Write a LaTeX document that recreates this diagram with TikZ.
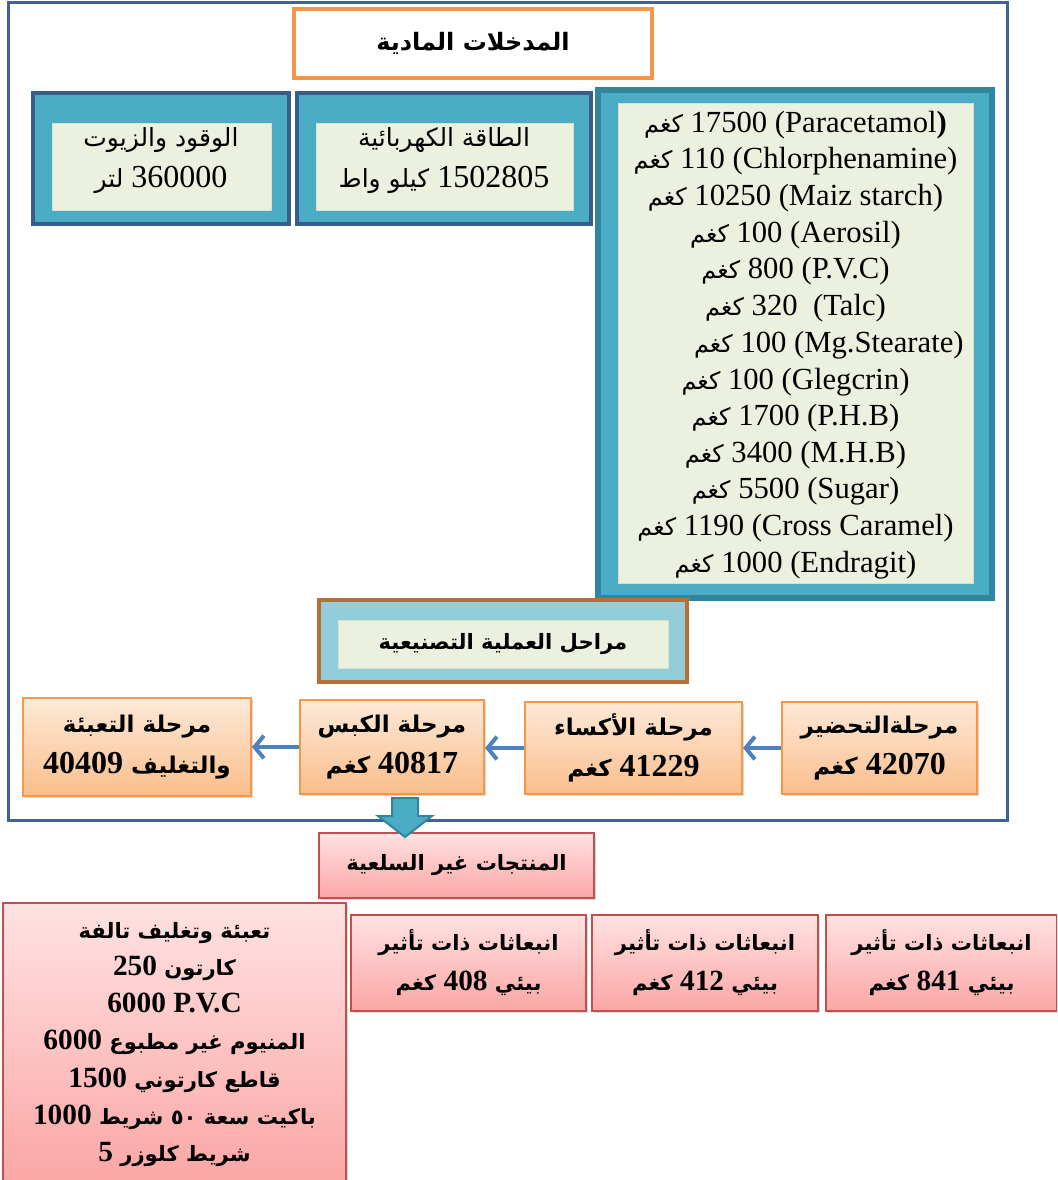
\documentclass[tikz,border=0pt]{standalone}
\usepackage{fontspec}
\setmainfont{Liberation Serif}
\newfontfamily\arabicfont[Script=Arabic,Scale=0.78]{DejaVu Sans}
\newfontfamily\arabicbold[Script=Arabic,Scale=0.72]{DejaVu Sans}
\TeXXeTstate=1
\newcommand{\artxt}[1]{{\arabicfont\beginR #1\endR}}
\newcommand{\arbtxt}[1]{{\arabicbold\bfseries\beginR #1\endR}}
\usepackage{tikz}
\usetikzlibrary{arrows.meta,positioning,calc,shadows}
\definecolor{framecol}{RGB}{64,98,148}
\definecolor{titleorange}{RGB}{247,150,70}
\definecolor{tealfill}{RGB}{75,172,198}
\definecolor{tealedge}{RGB}{49,133,156}
\definecolor{navyedge}{RGB}{56,93,138}
\definecolor{paleinner}{RGB}{235,241,222}
\definecolor{paleedge}{RGB}{214,227,200}
\definecolor{procfill}{RGB}{146,205,220}
\definecolor{procedge}{RGB}{183,110,55}
\definecolor{peachtop}{RGB}{253,233,216}
\definecolor{peachbot}{RGB}{250,190,140}
\definecolor{pinktop}{RGB}{255,226,226}
\definecolor{pinkbot}{RGB}{250,166,164}
\definecolor{pinkedge}{RGB}{192,80,77}
\definecolor{arrowblue}{RGB}{79,129,189}
\tikzset{
  framebox/.style={draw=framecol,line width=2.25pt},
  titlebox/.style={draw=titleorange,line width=3pt,fill=white,inner sep=0pt,
    font=\bfseries\fontsize{25}{28}\selectfont},
  tealbox/.style={draw=navyedge,line width=3pt,fill=tealfill,inner sep=0pt},
  innerbox/.style={draw=paleedge,line width=0.75pt,fill=paleinner,inner sep=0pt},
  plaintxt/.style={inner sep=0pt,align=center,font=\fontsize{24}{30.75}\selectfont},
  stagebox/.style={draw=titleorange,line width=1.5pt,top color=peachtop,bottom color=peachbot,
    inner sep=0pt,align=center,minimum height=69pt,
    drop shadow={shadow xshift=1.5pt,shadow yshift=-1.5pt,opacity=0.3},
    execute at begin node=\rule{0pt}{20pt},
    font=\bfseries\fontsize{24}{30.5}\selectfont},
  pinkbox/.style={draw=pinkedge,line width=1.5pt,top color=pinktop,bottom color=pinkbot,
    inner sep=0pt,align=center,
    drop shadow={shadow xshift=1.5pt,shadow yshift=-1.5pt,opacity=0.3},
    font=\bfseries\fontsize{22}{30}\selectfont},
  flowarrow/.style={draw=arrowblue,line width=3pt,-{Straight Barb[length=7pt,width=17pt]}},
  blockarrow/.style={draw=tealedge,line width=1.5pt,fill=tealfill}
}
\begin{document}
\begin{tikzpicture}[x=0.75pt,y=-0.75pt]
  \useasboundingbox (0,0) rectangle (1057,1180);
  \clip (0,0) rectangle (1057,1180);
  % outer frame
  \draw[framebox] (8,3) rectangle (1007,820);
  \node[titlebox,minimum width=268.5pt,minimum height=51.75pt] (inputs) at (473,43.5)
    {\arbtxt{المدخلات المادية}};
  % fuel and power
  \node[tealbox,minimum width=192pt,minimum height=98.25pt] (fuel) at (161,158.5) {};
  \node[innerbox,minimum width=164.25pt,minimum height=65.25pt] (fuelin) at (161.5,167.5) {};
  \node[plaintxt] (fueltxt) at (161,160.5) {\artxt{الوقود والزيوت}\\\artxt{لتر} 360000};
  \node[tealbox,minimum width=220.5pt,minimum height=98.25pt] (power) at (444,158.5) {};
  \node[innerbox,minimum width=192.75pt,minimum height=65.25pt] (powerin) at (444.5,167.5) {};
  \node[plaintxt] (powertxt) at (444,160.5) {\artxt{الطاقة الكهربائية}\\\artxt{كيلو واط} 1502805};
  % raw materials
  \node[tealbox,draw=tealedge,line width=4.5pt,minimum width=295.5pt,minimum height=381pt] (mats) at (795,344) {};
  \node[innerbox,minimum width=266.25pt,minimum height=359.25pt] (matsin) at (795.5,343.5) {};
  \node[plaintxt,font=\fontsize{23}{27.5}\selectfont] (matstxt) at (795.5,345) {%
    \artxt{كغم} 17500 (Paracetamol\textbf{)}\\
    \artxt{كغم} 110 (Chlorphenamine)\\
    \artxt{كغم} 10250 (Maiz starch)\\
    \artxt{كغم} 100 (Aerosil)\\
    \artxt{كغم} 800 (P.V.C)\\
    \artxt{كغم} 320 \ (Talc)\\
    \hspace*{50pt}\artxt{كغم} 100 (Mg.Stearate)\\
    \artxt{كغم} 100 (Glegcrin)\\
    \artxt{كغم} 1700 (P.H.B)\\
    \artxt{كغم} 3400 (M.H.B)\\
    \artxt{كغم} 5500 (Sugar)\\
    \artxt{كغم} 1190 (Cross Caramel)\\
    \artxt{كغم} 1000 (Endragit)};
  % process stages
  \node[tealbox,draw=procedge,fill=procfill,minimum width=276pt,minimum height=61.5pt] (proc) at (503,641) {};
  \node[innerbox,minimum width=247.5pt,minimum height=36pt,font=\bfseries\fontsize{22}{25}\selectfont] (procin) at (503,644)
    {\arbtxt{مراحل العملية التصنيعية}};
  \node[stagebox,minimum width=146.25pt] (prep) at (879.5,748) {\arbtxt{مرحلةالتحضير}\\\arbtxt{كغم} 42070};
  \node[stagebox,minimum width=162.75pt] (coat) at (633.5,748) {\arbtxt{مرحلة الأكساء}\\\arbtxt{كغم} 41229};
  \node[stagebox,minimum width=138pt,minimum height=70.5pt] (press) at (392,747) {\arbtxt{مرحلة الكبس}\\\arbtxt{كغم} 40817};
  \node[stagebox,minimum width=171pt,minimum height=73.5pt] (pack) at (137,747) {\arbtxt{مرحلة التعبئة}\\40409 \arbtxt{والتغليف}};
  \draw[flowarrow] (prep.west) -- (prep.west -| coat.east);
  \draw[flowarrow] (coat.west) -- (coat.west -| press.east);
  \draw[flowarrow] (press.west) -- (press.west -| pack.east);
  % non-commodity outputs
  \node[pinkbox,minimum width=206.25pt,minimum height=48.75pt,font=\bfseries\fontsize{22}{25}\selectfont] (waste) at (456.5,865.5)
    {\arbtxt{المنتجات غير السلعية}};
  \coordinate (dtop) at ($(press.south)+(13,3)$);
  \draw[blockarrow] (dtop) ++(-13,0) -- ++(26,0) -- ++(0,18) -- ++(14,0) -- ++(-27,21)
    -- ++(-27,-21) -- ++(14,0) -- cycle;
  \node[pinkbox,minimum width=257.25pt,minimum height=212.25pt,font=\bfseries\fontsize{22}{27.9}\selectfont] (damaged) at (174.5,1044.5) {%
    \arbtxt{تعبئة وتغليف تالفة}\\
    250 \arbtxt{كارتون}\\
    6000 P.V.C\\
    6000 \arbtxt{المنيوم غير مطبوع}\\
    1500 \arbtxt{قاطع كارتوني}\\
    1000 \arbtxt{باكيت سعة ٥٠ شريط}\\
    5 \arbtxt{شريط كلوزر}};
  \node[pinkbox,minimum width=176.25pt,minimum height=72pt] (emit1) at (468.5,963)
    {\arbtxt{انبعاثات ذات تأثير}\\\arbtxt{كغم} 408 \arbtxt{بيئي}};
  \node[pinkbox,minimum width=169.5pt,minimum height=72pt] (emit2) at (705,963)
    {\arbtxt{انبعاثات ذات تأثير}\\\arbtxt{كغم} 412 \arbtxt{بيئي}};
  \node[pinkbox,minimum width=173.25pt,minimum height=72pt] (emit3) at (941.5,963)
    {\arbtxt{انبعاثات ذات تأثير}\\\arbtxt{كغم} 841 \arbtxt{بيئي}};
\end{tikzpicture}
\end{document}
